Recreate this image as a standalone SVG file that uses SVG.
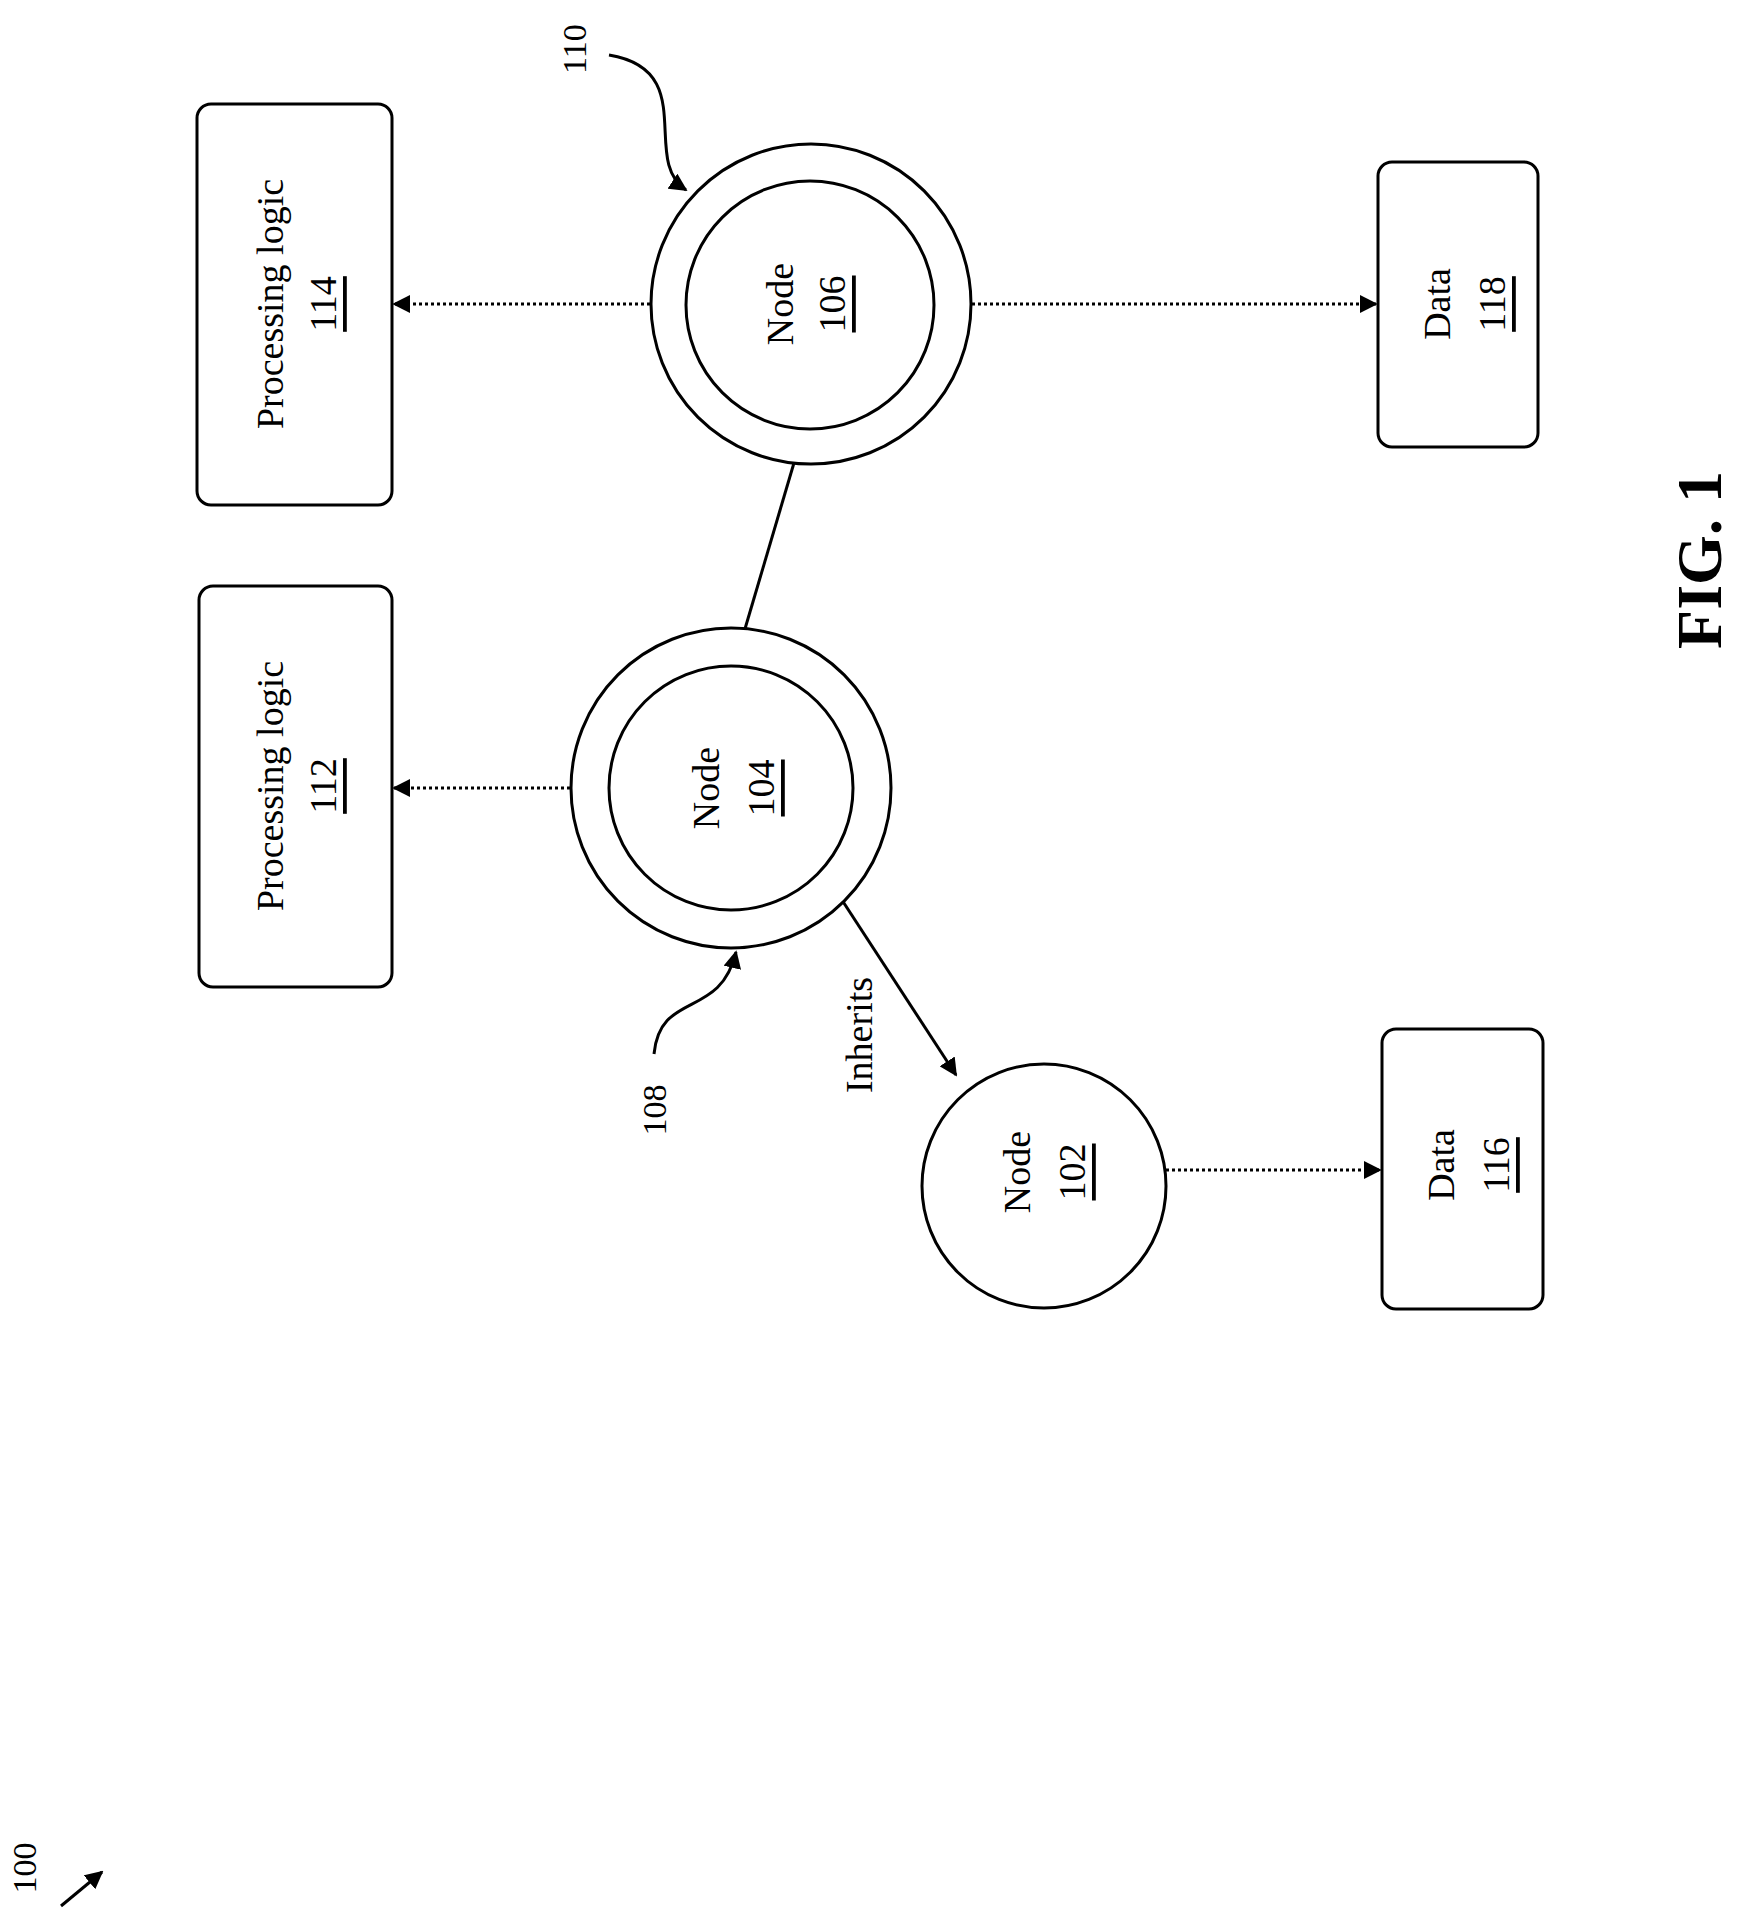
<svg xmlns="http://www.w3.org/2000/svg" width="1754" height="1919" viewBox="0 0 1754 1919">
<style>
text{font-family:"Liberation Serif",serif;font-size:38px;fill:#000;text-anchor:middle;dominant-baseline:central}
.b{fill:#fff;stroke:#000;stroke-width:3}
.d{stroke:#000;stroke-width:3;stroke-dasharray:3 3;fill:none}
.s{stroke:#000;stroke-width:3;fill:none}
</style>
<defs><marker id="a" viewBox="0 0 10 10" refX="9" refY="5" markerWidth="6" markerHeight="6" orient="auto"><path d="M0,0L10,5L0,10z"/></marker></defs>
<rect width="1754" height="1919" fill="#fff"/>
<g id="connectors">
<line class="d" x1="650" y1="304" x2="394" y2="304" marker-end="url(#a)"/>
<line class="d" x1="972" y1="304" x2="1376" y2="304" marker-end="url(#a)"/>
<line class="d" x1="570" y1="788" x2="394" y2="788" marker-end="url(#a)"/>
<line class="d" x1="1166" y1="1170" x2="1380" y2="1170" marker-end="url(#a)"/>
<line class="s" x1="804" y1="429" x2="734" y2="666"/>
<line class="s" x1="825" y1="874" x2="956" y2="1075" marker-end="url(#a)"/>
<path class="s" d="M609,55 C700,70 640,160 686,190" marker-end="url(#a)"/>
<path class="s" d="M654,1054 C660,990 720,1020 736,952" marker-end="url(#a)"/>
<line class="s" x1="61" y1="1906" x2="102" y2="1872" marker-end="url(#a)"/>
</g>
<g id="n114"><rect class="b" x="197" y="104" width="195" height="401" rx="14"/><text transform="translate(270,304) rotate(-90)">Processing logic</text><text transform="translate(323,304) rotate(-90)" text-decoration="underline">114</text></g>
<g id="n112"><rect class="b" x="199" y="586" width="193" height="401" rx="14"/><text transform="translate(270,786) rotate(-90)">Processing logic</text><text transform="translate(323,786) rotate(-90)" text-decoration="underline">112</text></g>
<g id="n106"><circle class="b" cx="811" cy="304" r="160"/><circle class="b" cx="810" cy="305" r="124"/><text transform="translate(780,304) rotate(-90)">Node</text><text transform="translate(832,304) rotate(-90)" text-decoration="underline">106</text></g>
<g id="n104"><circle class="b" cx="731" cy="788" r="160"/><circle class="b" cx="731" cy="788" r="122"/><text transform="translate(706,788) rotate(-90)">Node</text><text transform="translate(761,788) rotate(-90)" text-decoration="underline">104</text></g>
<g id="n102"><circle class="b" cx="1044" cy="1186" r="122"/><text transform="translate(1017,1172) rotate(-90)">Node</text><text transform="translate(1072,1172) rotate(-90)" text-decoration="underline">102</text></g>
<g id="n118"><rect class="b" x="1378" y="162" width="160" height="285" rx="14"/><text transform="translate(1437,304) rotate(-90)">Data</text><text transform="translate(1492,304) rotate(-90)" text-decoration="underline">118</text></g>
<g id="n116"><rect class="b" x="1382" y="1029" width="161" height="280" rx="14"/><text transform="translate(1441,1165) rotate(-90)">Data</text><text transform="translate(1496,1165) rotate(-90)" text-decoration="underline">116</text></g>
<g id="labels">
<text transform="translate(859,1035) rotate(-90)">Inherits</text>
<text transform="translate(574,49) rotate(-90)" style="font-size:34px">110</text>
<text transform="translate(654,1110) rotate(-90)" style="font-size:34px">108</text>
<text transform="translate(24,1868) rotate(-90)" style="font-size:34px">100</text>
<text transform="translate(1699,560) rotate(-90)" style="font-size:64px;font-weight:bold">FIG. 1</text>
</g>
</svg>
